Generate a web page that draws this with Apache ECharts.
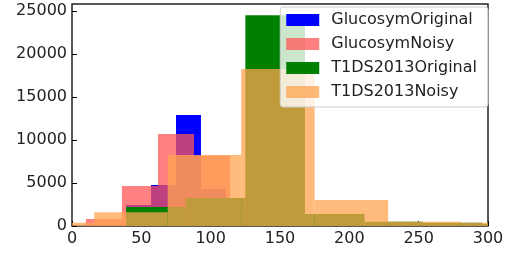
<!DOCTYPE html>
<html lang="en">
<head>
<meta charset="UTF-8">
<title>Histogram</title>
<script src="https://cdn.jsdelivr.net/npm/echarts@6/dist/echarts.min.js"></script>
<style>
  body { margin: 0; background: #fff; }
  #container { width: 510px; height: 255px; }
</style>
</head>
<body>
<div id="container"></div>
<script type="text/javascript">
// bin edges and counts for each histogram
var glucosymOrigEdges = [39, 57, 75, 93, 111, 129, 147, 165, 183, 201, 219];
var glucosymOrigCounts = [2440, 4770, 12900, 4300, 2000, 14000, 9000, 1000, 300, 100];

var glucosymNoisyEdges = [10, 36, 62, 88, 114, 140, 166, 192, 218, 244, 270];
var glucosymNoisyCounts = [810, 4650, 10700, 8200, 3000, 13000, 1200, 400, 100, 30];

var t1dsOrigEdges = [39, 82, 125, 168, 211, 253, 296, 339, 382, 425, 468];
var t1dsOrigCounts = [2200, 3256, 24500, 1400, 480, 380, 250, 100, 40, 10];

var t1dsNoisyEdges = [-37, 16, 69, 122, 175, 228, 281, 334, 387, 440, 493];
var t1dsNoisyCounts = [380, 1600, 8250, 18250, 3020, 500, 380, 80, 30, 10];

var xTicks = [0, 50, 100, 150, 200, 250, 300];
var yTicks = [0, 5000, 10000, 15000, 20000, 25000];

function toBins(edges, counts) {
    var out = [];
    for (var i = 0; i < counts.length; i++) {
        out.push([edges[i], edges[i + 1], counts[i]]);
    }
    return out;
}

function renderBin(params, api) {
    var p0 = api.coord([api.value(0), 0]);
    var p1 = api.coord([api.value(1), api.value(2)]);
    var cs = params.coordSys;
    var shape = echarts.graphic.clipRectByRect(
        { x: p0[0], y: p1[1], width: p1[0] - p0[0], height: p0[1] - p1[1] },
        { x: cs.x, y: cs.y, width: cs.width, height: cs.height }
    );
    if (!shape) return;
    return { type: 'rect', shape: shape, style: api.style() };
}

function histSeries(name, edges, counts, color) {
    return {
        name: name,
        type: 'custom',
        renderItem: renderBin,
        itemStyle: { color: color },
        encode: { x: [0, 1], y: 2 },
        data: toBins(edges, counts)
    };
}

var dom = document.getElementById('container');
var myChart = echarts.init(dom, null, { renderer: 'canvas' });

var font = 'DejaVu Sans';
var option = {
    animation: false,
    grid: {
        left: 72, right: 22, top: 4, bottom: 29,
        show: true, borderColor: '#222', borderWidth: 1.5,
        backgroundColor: 'transparent'
    },
    legend: {
        right: 22, top: 7,
        orient: 'vertical',
        icon: 'rect',
        itemWidth: 33, itemHeight: 12, itemGap: 8,
        padding: [5, 11, 7, 6],
        backgroundColor: 'rgba(255,255,255,0.8)',
        borderColor: '#cccccc', borderWidth: 1, borderRadius: 3,
        textStyle: { fontFamily: font, fontSize: 16, color: '#222', lineHeight: 16, padding: [0, 0, 0, 7] },
        data: ['GlucosymOriginal', 'GlucosymNoisy', 'T1DS2013Original', 'T1DS2013Noisy']
    },
    xAxis: {
        type: 'value', min: xTicks[0], max: xTicks[xTicks.length - 1], interval: 50,
        axisLine: { show: false },
        axisTick: { show: true, inside: true, length: 5, lineStyle: { color: '#000', width: 1 } },
        axisLabel: { fontFamily: font, fontSize: 16, color: '#222', margin: 5 },
        splitLine: { show: false }
    },
    yAxis: {
        type: 'value', min: yTicks[0], max: 25800, interval: 5000,
        axisLine: { show: false },
        axisTick: { show: true, inside: true, length: 5, lineStyle: { color: '#000', width: 1 } },
        axisLabel: {
            fontFamily: font, fontSize: 16, color: '#222', margin: 5,
            formatter: function (v) { return String(v); }
        },
        splitLine: { show: false }
    },
    series: [
        histSeries('GlucosymOriginal', glucosymOrigEdges, glucosymOrigCounts, '#0000ff'),
        histSeries('GlucosymNoisy', glucosymNoisyEdges, glucosymNoisyCounts, 'rgba(255,85,85,0.75)'),
        histSeries('T1DS2013Original', t1dsOrigEdges, t1dsOrigCounts, '#008000'),
        histSeries('T1DS2013Noisy', t1dsNoisyEdges, t1dsNoisyCounts, 'rgba(255,164,80,0.75)')
    ]
};

myChart.setOption(option);
window.addEventListener('resize', myChart.resize);
</script>
</body>
</html>
